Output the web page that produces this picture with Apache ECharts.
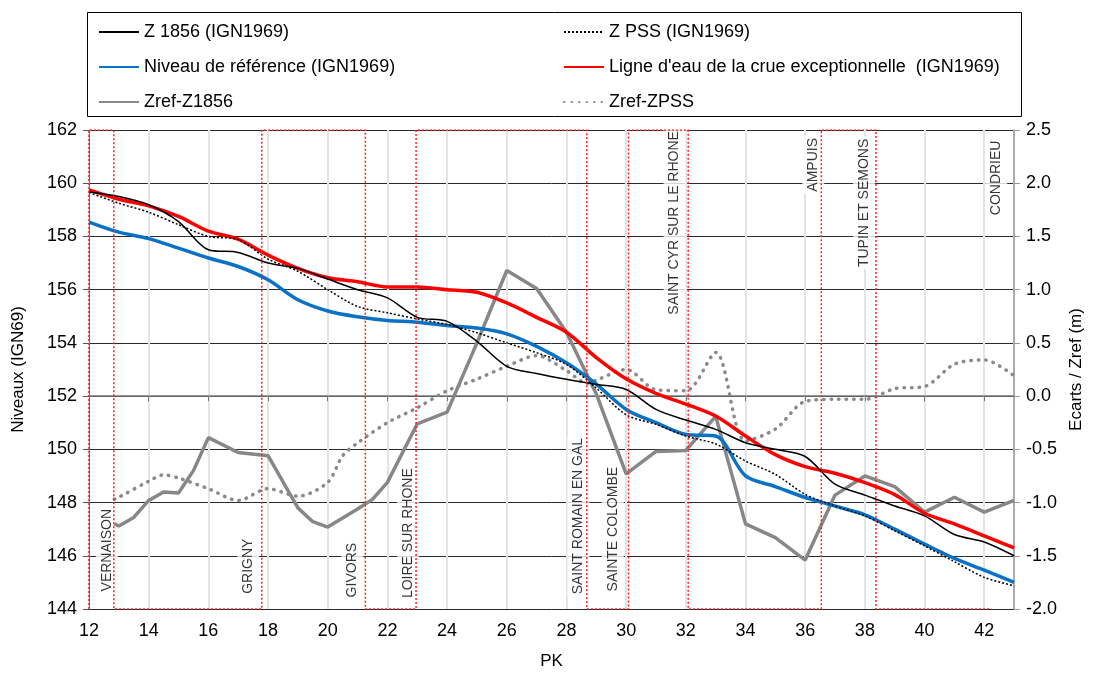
<!DOCTYPE html>
<html>
<head>
<meta charset="utf-8">
<script src="https://cdn.jsdelivr.net/npm/echarts@6/dist/echarts.min.js"></script>
<style>
html,body{margin:0;padding:0;background:#fff;}
#chart{width:1093px;height:675px;}
</style>
</head>
<body>
<div id="chart"></div>
<script>
// ---- data ----
var pk = [12,13,14,15,16,17,18,19,20,21,22,23,24,25,26,27,28,29,30,31,32,33,34,35,36,37,38,39,40,41,42,43];
var z1856 = [159.67,159.5,159.19,158.56,157.5,157.4,157.0,156.8,156.4,156.0,155.69,154.96,154.81,154.06,153.12,152.85,152.63,152.44,152.25,151.5,151.1,150.75,150.25,150.0,149.73,148.69,148.28,147.87,147.5,146.8,146.52,146.0];
var zpss = [159.65,159.25,158.91,158.44,158.0,157.88,157.15,156.69,156.0,155.37,155.13,154.9,154.69,154.38,154.0,153.63,153.19,152.3,151.3,150.94,150.5,150.2,149.56,149.06,148.31,147.87,147.5,146.94,146.37,145.78,145.19,144.87];
var niveauRef = [158.54,158.16,157.92,157.56,157.19,156.87,156.37,155.62,155.2,154.98,154.84,154.78,154.65,154.56,154.34,153.87,153.25,152.45,151.5,151.0,150.56,150.5,149.0,148.6,148.19,147.87,147.54,147.0,146.44,145.9,145.46,145.0];
var ligneCrue = [159.75,159.4,159.15,158.75,158.2,157.9,157.3,156.8,156.45,156.3,156.1,156.1,156.0,155.9,155.5,154.96,154.4,153.45,152.65,152.1,151.7,151.25,150.5,149.8,149.35,149.1,148.75,148.3,147.6,147.2,146.75,146.3];

var pkEcart1856 = [12.85,13,13.5,14,14.5,15,15.5,16,17,18,19,19.5,20,21,21.5,22,23,24,25,26,27,28,29,30,31,32,33,34,35,36,37,38,39,40,41,42,43];
var ecart1856 = [-1.2,-1.22,-1.14,-0.98,-0.9,-0.91,-0.7,-0.39,-0.53,-0.56,-1.05,-1.18,-1.23,-1.06,-0.97,-0.81,-0.26,-0.15,0.5,1.18,1.01,0.6,0.02,-0.73,-0.52,-0.51,-0.19,-1.2,-1.33,-1.54,-0.93,-0.75,-0.85,-1.09,-0.95,-1.09,-0.98];

var pkEcartPSS = [12.85,13,14,14.5,15,16,17,18,19,20,20.5,21,22,23,24,25,26,27,28,28.7,29,30,31,32,33,34,35,36,37,38,39,40,41,42,43];
var ecartPSS = [-0.97,-0.95,-0.8,-0.74,-0.77,-0.87,-0.98,-0.87,-0.94,-0.81,-0.56,-0.44,-0.25,-0.11,0.05,0.16,0.28,0.38,0.24,0.12,0.15,0.25,0.06,0.05,0.41,-0.42,-0.31,-0.05,-0.03,-0.03,0.07,0.09,0.3,0.34,0.19];

// limits between zones (PK)
var zoneBreaks = [12, 12.83, 17.79, 21.26, 22.96, 28.68, 30.08, 32.08, 36.54, 38.37, 42.24];

// localities: name, PK, level (IGN69) of label centre
var placeNames = ['VERNAISON','GRIGNY','GIVORS','LOIRE SUR RHONE','SAINT ROMAIN EN GAL','SAINTE COLOMBE','SAINT CYR SUR LE RHONE','AMPUIS','TUPIN ET SEMONS','CONDRIEU'];
var placePK    = [12.6, 17.33, 20.82, 22.69, 28.4, 29.55, 31.62, 36.27, 37.97, 42.4];
var placeLevel = [146.21, 145.61, 145.46, 146.85, 147.49, 147.0, 158.51, 160.69, 159.26, 160.2];

var xTicksMin = 12, xTicksMax = 43;
var yLeftMin = 144, yLeftMax = 162;
var yRightMin = -2.0, yRightMax = 2.5;

// ---- build ----
function pairs(xs, ys){ return xs.map(function(x,i){ return [x, ys[i]]; }); }
var zoneData = [];
var low = yLeftMin, high = yLeftMax;
var cur = low;
zoneBreaks.forEach(function(b, i){
  zoneData.push([b, cur]);
  if (i < zoneBreaks.length - 1) {
    cur = (cur === low) ? high : low;
    zoneData.push([b, cur]);
  }
});
var placeData = placeNames.map(function(n,i){ return [placePK[i], placeLevel[i], n]; });

var FONT = 'Liberation Sans, Arial, sans-serif';
var chart = echarts.init(document.getElementById('chart'), null, {renderer:'canvas'});
var legendText = {fontFamily: FONT, fontSize: 18, color: '#000', lineHeight: 18};

chart.setOption({
  backgroundColor: '#fff',
  animation: false,
  graphic: [{
    type: 'rect', z: 0,
    shape: {x: 87.5, y: 12.5, width: 934, height: 104},
    style: {fill: '#fff', stroke: '#000', lineWidth: 1}
  }],
  legend: [{
    orient: 'vertical', left: 98, top: 23, padding: 0, itemWidth: 40, itemHeight: 14, itemGap: 17,
    textStyle: legendText, z: 5, itemStyle: {opacity: 0},
    data: ['Z 1856 (IGN1969)', 'Niveau de référence (IGN1969)', 'Zref-Z1856']
  },{
    orient: 'vertical', left: 563, top: 23, padding: 0, itemWidth: 40, itemHeight: 14, itemGap: 17,
    textStyle: legendText, z: 5, itemStyle: {opacity: 0},
    data: ['Z PSS (IGN1969)', "Ligne d'eau de la crue exceptionnelle  (IGN1969)", 'Zref-ZPSS']
  }],
  grid: {left: 89, right: 73, top: 130, bottom: 65, containLabel: false},
  xAxis: {
    type: 'value', min: xTicksMin, max: xTicksMax, interval: 2,
    name: 'PK', nameLocation: 'middle', nameGap: 44,
    nameTextStyle: {fontFamily: FONT, fontSize: 17, color: '#000'},
    axisLine: {show: true, lineStyle: {color: '#777', width: 1.5}},
    axisTick: {show: true, length: 5, lineStyle: {color: '#777'}},
    axisLabel: {fontFamily: FONT, fontSize: 18, color: '#000', margin: 13, showMaxLabel: false},
    splitLine: {show: true, lineStyle: {color: '#e4e4e4', width: 2}}
  },
  yAxis: [{
    type: 'value', min: yLeftMin, max: yLeftMax, interval: 2, position: 'left',
    name: 'Niveaux (IGN69)', nameLocation: 'middle', nameGap: 62, nameRotate: 90,
    nameTextStyle: {fontFamily: FONT, fontSize: 17, color: '#000'},
    axisLine: {show: true, lineStyle: {color: '#777'}},
    axisTick: {show: true, length: 6, lineStyle: {color: '#555'}},
    axisLabel: {fontFamily: FONT, fontSize: 18, color: '#000', margin: 12},
    splitLine: {show: true, lineStyle: {color: '#2a2a2a', width: 1}}
  },{
    type: 'value', min: yRightMin, max: yRightMax, interval: 0.5, position: 'right',
    name: 'Ecarts / Zref (m)', nameLocation: 'middle', nameGap: 52, nameRotate: 90,
    nameTextStyle: {fontFamily: FONT, fontSize: 17, color: '#000'},
    axisLine: {show: true, lineStyle: {color: '#999', width: 1.5}},
    axisTick: {show: true, length: 6, lineStyle: {color: '#999'}},
    axisLabel: {fontFamily: FONT, fontSize: 18, color: '#000', margin: 12,
      formatter: function(v){ return v.toFixed(1); }},
    splitLine: {show: false}
  }],
  series: [
    {
      name: 'places', type: 'scatter', z: 1, silent: true,
      data: placeData, symbolSize: 1, itemStyle: {color: 'rgba(0,0,0,0)'},
      label: {
        show: true, position: 'inside', rotate: 90,
        formatter: function(p){ return p.data[2]; },
        fontFamily: FONT, fontSize: 14, color: '#000', textBorderWidth: 0,
        backgroundColor: '#fff', padding: [4, 2, 4, 2]
      }
    },
    {
      name: 'Zref-Z1856', type: 'line', yAxisIndex: 1, z: 2,
      data: pairs(pkEcart1856, ecart1856), symbol: 'none', smooth: false,
      lineStyle: {color: '#878787', width: 3.5}, itemStyle: {color: '#878787', opacity: 0}
    },
    {
      name: 'Zref-ZPSS', type: 'line', yAxisIndex: 1, z: 2,
      data: pairs(pkEcartPSS, ecartPSS), symbol: 'none', smooth: 0.3,
      lineStyle: {color: '#8a8a8a', width: 3.5, type: [0.5, 7], cap: 'round'}, itemStyle: {color: '#8a8a8a', opacity: 0}
    },
    {
      name: 'Niveau de référence (IGN1969)', type: 'line', z: 3,
      data: pairs(pk, niveauRef), symbol: 'none', smooth: 0.3,
      lineStyle: {color: '#0a72c6', width: 3.5}, itemStyle: {color: '#0a72c6', opacity: 0}
    },
    {
      name: "Ligne d'eau de la crue exceptionnelle  (IGN1969)", type: 'line', z: 3,
      data: pairs(pk, ligneCrue), symbol: 'none', smooth: 0.3,
      lineStyle: {color: '#ff0000', width: 3.5}, itemStyle: {color: '#ff0000', opacity: 0}
    },
    {
      name: 'Z PSS (IGN1969)', type: 'line', z: 4,
      data: pairs(pk, zpss), symbol: 'none', smooth: 0.3,
      lineStyle: {color: '#000', width: 1.5, type: [2, 2]}, itemStyle: {color: '#000', opacity: 0}
    },
    {
      name: 'Z 1856 (IGN1969)', type: 'line', z: 4,
      data: pairs(pk, z1856), symbol: 'none', smooth: 0.3,
      lineStyle: {color: '#000', width: 1.5}, itemStyle: {color: '#000', opacity: 0}
    },
    {
      name: 'zones', type: 'line', z: 5, silent: true,
      data: zoneData, symbol: 'none',
      lineStyle: {color: '#ff2020', width: 1.5, type: [2, 2]}
    }
  ]
});
</script>
</body>
</html>
